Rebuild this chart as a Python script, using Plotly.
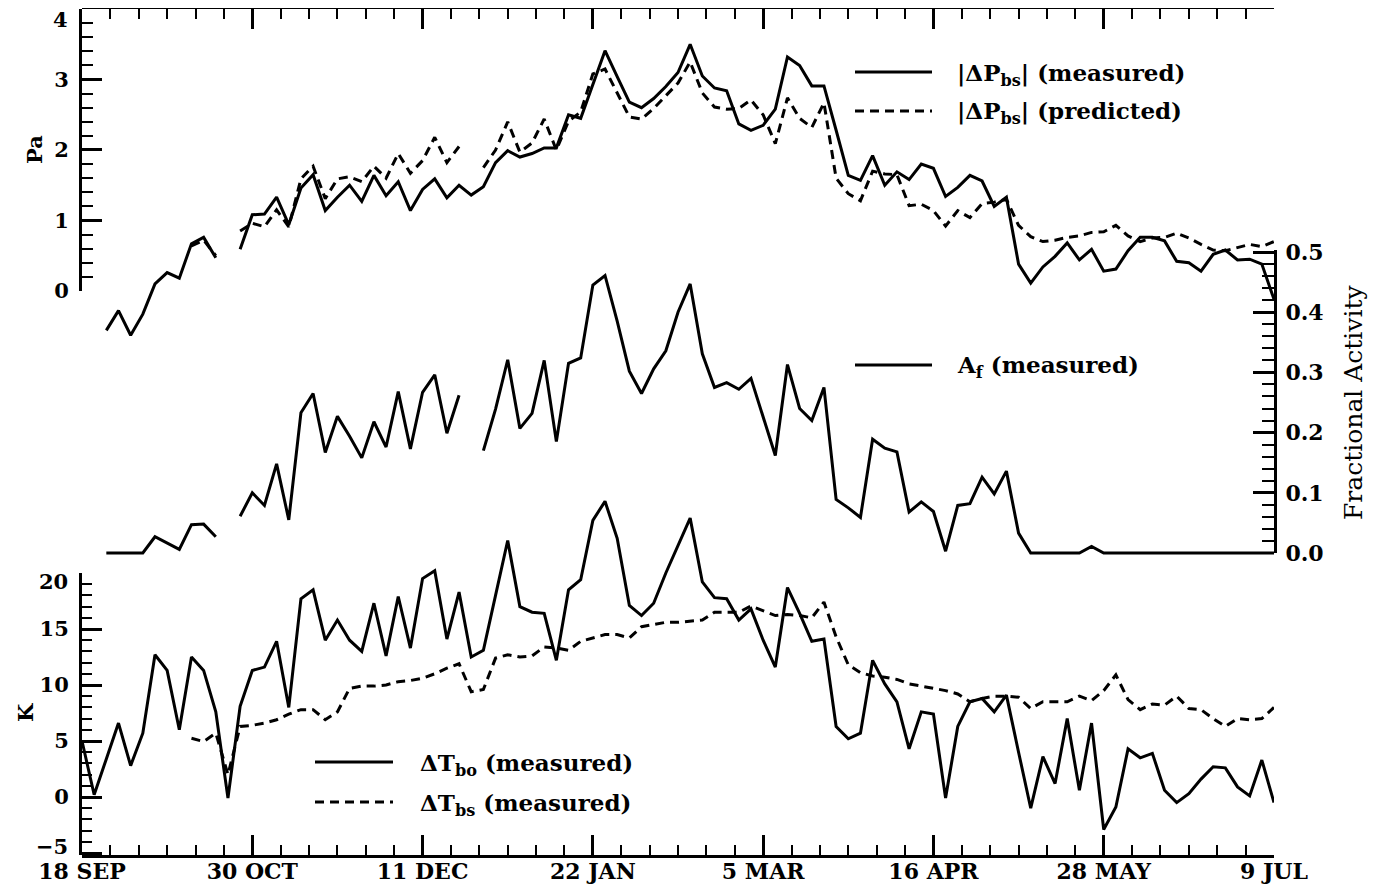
import plotly.graph_objects as go

# ---------------- data ----------------
STEP_DAYS = 3  # samples every 3 days starting 18 SEP
tick_days = [0, 42, 84, 126, 168, 210, 252, 294]
tick_labels = ["18 SEP", "30 OCT", "11 DEC", "22 JAN", "5 MAR", "16 APR", "28 MAY", "9 JUL"]
N = None

# |dP_bs| measured (Pa)
dP_meas = [N, N, -0.56, -0.28, -0.63, -0.33, 0.10, 0.26, 0.18, 0.67,
           0.76, 0.47, N, 0.59, 1.08, 1.09, 1.33, 0.94, 1.46, 1.65,
           1.14, 1.33, 1.50, 1.27, 1.64, 1.35, 1.55, 1.14, 1.44, 1.59,
           1.32, 1.50, 1.36, 1.48, 1.82, 1.99, 1.90, 1.95, 2.03, 2.03,
           2.50, 2.45, 2.92, 3.41, 3.04, 2.68, 2.60, 2.73, 2.90, 3.10,
           3.50, 3.05, 2.88, 2.84, 2.37, 2.28, 2.35, 2.58, 3.32, 3.20,
           2.91, 2.91, 2.28, 1.64, 1.57, 1.92, 1.50, 1.69, 1.58, 1.80,
           1.74, 1.34, 1.47, 1.64, 1.56, 1.20, 1.33, 0.38, 0.11, 0.34,
           0.49, 0.68, 0.44, 0.59, 0.28, 0.31, 0.57, 0.76, 0.76, 0.71,
           0.42, 0.40, 0.28, 0.52, 0.58, 0.44, 0.45, 0.38, -0.12]

# |dP_bs| predicted (Pa)
dP_pred = [N, N, N, N, N, N, N, N, N, 0.64,
           0.72, 0.50, N, 0.85, 0.96, 0.91, 1.15, 0.91, 1.59, 1.77,
           1.31, 1.59, 1.62, 1.55, 1.77, 1.60, 1.95, 1.67, 1.85, 2.18,
           1.82, 2.05, N, 1.75, 2.00, 2.40, 1.97, 2.10, 2.44, 2.00,
           2.41, 2.54, 3.08, 3.15, 2.82, 2.47, 2.44, 2.59, 2.77, 2.95,
           3.25, 2.81, 2.61, 2.58, 2.59, 2.71, 2.50, 2.09, 2.74, 2.45,
           2.32, 2.67, 1.60, 1.38, 1.28, 1.70, 1.66, 1.65, 1.21, 1.23,
           1.14, 0.92, 1.14, 1.04, 1.24, 1.26, 1.30, 0.93, 0.77, 0.70,
           0.72, 0.76, 0.78, 0.83, 0.84, 0.93, 0.78, 0.70, 0.75, 0.76,
           0.82, 0.75, 0.66, 0.58, 0.57, 0.62, 0.66, 0.63, 0.70]

# A_f measured (fractional activity)
frac_act = [N, N, 0.0, 0.0, 0.0, 0.0, 0.027, 0.017, 0.006, 0.047,
            0.048, 0.027, N, 0.061, 0.100, 0.079, 0.148, 0.055, 0.233, 0.265,
            0.167, 0.227, 0.194, 0.158, 0.218, 0.176, 0.268, 0.173, 0.267, 0.296,
            0.199, 0.262, N, 0.170, 0.239, 0.321, 0.207, 0.232, 0.320, 0.185,
            0.315, 0.324, 0.445, 0.461, 0.385, 0.302, 0.265, 0.306, 0.336, 0.400,
            0.447, 0.331, 0.275, 0.283, 0.272, 0.290, 0.225, 0.162, 0.313, 0.240,
            0.220, 0.275, 0.089, 0.075, 0.059, 0.189, 0.174, 0.168, 0.068, 0.085,
            0.069, 0.003, 0.079, 0.082, 0.126, 0.098, 0.136, 0.033, 0.0, 0.0,
            0.0, 0.0, 0.0, 0.011, 0.0, 0.0, 0.0, 0.0, 0.0, 0.0,
            0.0, 0.0, 0.0, 0.0, 0.0, 0.0, 0.0, 0.0, 0.0]

# dT_bo measured (K)
dT_bo = [5.0, 0.2, 3.4, 6.6, 2.8, 5.7, 12.7, 11.3, 6.0, 12.5,
         11.3, 7.6, -0.1, 8.1, 11.3, 11.6, 13.9, 8.0, 17.7, 18.5,
         14.0, 15.8, 14.0, 13.0, 17.3, 12.6, 17.9, 13.3, 19.5, 20.2,
         14.1, 18.3, 12.5, 13.1, 18.0, 22.9, 17.0, 16.5, 16.4, 12.2,
         18.5, 19.4, 24.7, 26.4, 23.1, 17.1, 16.2, 17.3, 20.0, 22.4,
         24.9, 19.2, 17.8, 17.7, 15.8, 16.8, 14.0, 11.6, 18.7, 16.4,
         13.9, 14.1, 6.3, 5.2, 5.7, 12.2, 10.1, 8.5, 4.3, 7.6,
         7.4, -0.1, 6.3, 8.5, 8.8, 7.6, 9.1, 4.0, -1.0, 3.6,
         1.2, 7.0, 0.6, 6.6, -2.9, -0.9, 4.3, 3.5, 3.9, 0.6,
         -0.5, 0.3, 1.6, 2.7, 2.6, 0.9, 0.1, 3.3, -0.5]

# dT_bs measured (K)
dT_bs = [N, N, N, N, N, N, N, N, N, 5.25,
         4.95, 5.7, 2.0, 6.3, 6.4, 6.6, 6.9, 7.4, 7.8, 7.8,
         6.9, 7.6, 9.7, 9.9, 9.9, 10.0, 10.3, 10.4, 10.6, 11.0,
         11.5, 11.9, 9.4, 9.6, 12.4, 12.7, 12.5, 12.6, 13.4, 13.3,
         13.1, 13.9, 14.2, 14.5, 14.5, 14.2, 15.2, 15.4, 15.6, 15.6,
         15.7, 15.8, 16.5, 16.5, 16.5, 17.05, 16.6, 16.2, 16.3, 16.2,
         16.0, 17.4, 14.3, 11.8, 11.1, 10.8, 10.7, 10.5, 10.1, 9.9,
         9.7, 9.5, 9.2, 8.5, 8.8, 9.0, 9.0, 8.9, 7.9, 8.5,
         8.5, 8.5, 9.0, 8.6, 9.5, 10.9, 8.7, 7.8, 8.3, 8.2,
         9.0, 7.9, 7.8, 7.0, 6.3, 7.0, 6.9, 7.0, 8.0]

days = [i * STEP_DAYS for i in range(len(dT_bo))]

# ---------------- layout geometry (reference-pixel based) ----------------
PAGE_OFF = 8                      # default body margin of the html page
W, H = 1384 - PAGE_OFF, 890 - PAGE_OFF
X_LEFT, X_RIGHT, Y_TOP, Y_BOT = 82, 1274, 9, 855   # plot frame in page pixels
ML = X_LEFT - PAGE_OFF
MT = Y_TOP - PAGE_OFF
MR = W - (X_RIGHT - PAGE_OFF)
MB = H - (Y_BOT - PAGE_OFF)
PH = Y_BOT - Y_TOP
PW = X_RIGHT - X_LEFT


def fy(py):
    return (Y_BOT - py) / PH


def fx(px):
    return (px - X_LEFT) / PW


# pixel calibration of each value axis (page pixels)
PA0, PAU = 290.9, 70.45      # Pa: pixel of 0, pixels per unit
FA0, FAU = 553.0, 602.0      # fractional activity
K0, KU = 797.0, 11.2         # K

pa_full = [(PA0 - Y_BOT) / PAU, (PA0 - Y_TOP) / PAU]
fa_full = [(FA0 - Y_BOT) / FAU, (FA0 - Y_TOP) / FAU]
k_full = [(K0 - Y_BOT) / KU, (K0 - Y_TOP) / KU]

FONT = "DejaVu Serif"
BLACK = "black"
LW = 3
DASH = "9px,6px"


def tfont(size, bold=True):
    d = dict(family=FONT, size=size, color=BLACK)
    if bold:
        d["weight"] = "bold"
    return d


fig = go.Figure()

# data traces (on full-height hidden axes so nothing gets clipped)
fig.add_trace(go.Scatter(x=days, y=dP_meas, xaxis="x", yaxis="y2", mode="lines",
                         line=dict(color=BLACK, width=LW), showlegend=False))
fig.add_trace(go.Scatter(x=days, y=dP_pred, xaxis="x", yaxis="y2", mode="lines",
                         line=dict(color=BLACK, width=LW, dash=DASH), showlegend=False))
fig.add_trace(go.Scatter(x=days, y=frac_act, xaxis="x", yaxis="y6", mode="lines",
                         line=dict(color=BLACK, width=LW), showlegend=False))
fig.add_trace(go.Scatter(x=days, y=dT_bo, xaxis="x", yaxis="y4", mode="lines",
                         line=dict(color=BLACK, width=LW), showlegend=False))
fig.add_trace(go.Scatter(x=days, y=dT_bs, xaxis="x", yaxis="y4", mode="lines",
                         line=dict(color=BLACK, width=LW, dash=DASH), showlegend=False))

# dummy traces so the display axes get drawn
for ya in ["y", "y3", "y5"]:
    fig.add_trace(go.Scatter(x=[None], y=[None], xaxis="x", yaxis=ya, mode="lines",
                             showlegend=False, hoverinfo="skip"))

tick_common = dict(ticks="inside", tickcolor=BLACK, tickwidth=2.5, showline=True,
                   linewidth=3, linecolor=BLACK, showgrid=False, zeroline=False,
                   automargin=False)

pa_ticks = [0, 1, 2, 3, 4]
pa_ticktext = ["0", "1", "2", "3", ""]          # "4" placed as its own label below
k_ticks = [-5, 0, 5, 10, 15, 20]
k_ticktext = ["", "0", "5", "10", "15", ""]     # end labels placed below

fig.update_layout(
    width=W, height=H,
    margin=dict(l=ML, r=MR, t=MT, b=MB, autoexpand=False),
    paper_bgcolor="white", plot_bgcolor="rgba(0,0,0,0)",
    showlegend=False,
    xaxis=dict(domain=[0, 1], range=[0, 294], anchor="y2", tickmode="array",
               tickvals=tick_days, ticktext=tick_labels, ticklen=20, mirror="ticks",
               ticklabelstandoff=-5,
               minor=dict(tickmode="linear", tick0=0, dtick=7, ticks="inside",
                          ticklen=10, tickwidth=2, tickcolor=BLACK, showgrid=False),
               tickfont=tfont(22), **tick_common),
    yaxis2=dict(domain=[0, 1], range=pa_full, visible=False, anchor="x", automargin=False),
    yaxis4=dict(domain=[0, 1], range=k_full, visible=False, anchor="x", automargin=False),
    yaxis6=dict(domain=[0, 1], range=fa_full, visible=False, anchor="x", automargin=False),
    yaxis=dict(domain=[fy(PA0), 1.0], range=[0, 4], anchor="x", side="left",
               tickmode="array", tickvals=pa_ticks, ticktext=pa_ticktext,
               ticklen=20, ticklabelstandoff=6,
               minor=dict(tickmode="linear", tick0=0, dtick=0.2, ticks="inside",
                          ticklen=11, tickwidth=2, tickcolor=BLACK, showgrid=False),
               tickfont=tfont(21), **tick_common),
    yaxis3=dict(domain=[0, fy(K0 - 20 * KU)], range=[k_full[0], 20], anchor="x", side="left",
                tickmode="array", tickvals=k_ticks, ticktext=k_ticktext,
                ticklen=20, ticklabelstandoff=6,
                minor=dict(tickmode="linear", tick0=0, dtick=1, ticks="inside",
                           ticklen=10, tickwidth=2, tickcolor=BLACK, showgrid=False),
                tickfont=tfont(21), **tick_common),
    yaxis5=dict(domain=[fy(FA0), fy(250)], range=[0, (FA0 - 250) / FAU], anchor="x",
                side="right", tickmode="linear", tick0=0, dtick=0.1, tickformat=".1f",
                ticklen=21, ticklabelstandoff=4,
                minor=dict(tickmode="linear", tick0=0, dtick=0.02, ticks="inside",
                           ticklen=12, tickwidth=2, tickcolor=BLACK, showgrid=False),
                tickfont=tfont(22), **tick_common),
)

# end labels of the left axes, nudged inside as in the reference
for lab, py in [("4", 19), ("20", 581), ("\u22125", 846)]:
    fig.add_annotation(xref="paper", yref="paper", x=fx(70), y=fy(py), text=lab,
                       xanchor="right", yanchor="middle", showarrow=False, font=tfont(21))

# ---------------- legends (line samples + labels) ----------------
legend_items = [
    (855, 932, 72, "solid", 955, "|ΔP<sub>bs</sub>| (measured)"),
    (855, 932, 111, DASH, 955, "|ΔP<sub>bs</sub>| (predicted)"),
    (855, 932, 365, "solid", 955, "A<sub>f</sub> (measured)"),
    (315, 393, 762, "solid", 418, "ΔT<sub>bo</sub> (measured)"),
    (315, 393, 802, DASH, 418, "ΔT<sub>bs</sub> (measured)"),
]
for x0, x1, yy, dash, tx, label in legend_items:
    fig.add_shape(type="line", xref="paper", yref="paper",
                  x0=fx(x0), x1=fx(x1), y0=fy(yy), y1=fy(yy),
                  line=dict(color=BLACK, width=LW, dash=dash))
    fig.add_annotation(xref="paper", yref="paper", x=fx(tx), y=fy(yy + 2),
                       xanchor="left", yanchor="middle", showarrow=False, text=label,
                       font=tfont(23))

# axis titles
fig.add_annotation(xref="paper", yref="paper", x=fx(35), y=fy(150), text="Pa",
                   textangle=-90, showarrow=False, xanchor="center", yanchor="middle",
                   font=tfont(21))
fig.add_annotation(xref="paper", yref="paper", x=fx(25), y=fy(713), text="K",
                   textangle=-90, showarrow=False, xanchor="center", yanchor="middle",
                   font=tfont(21))
fig.add_annotation(xref="paper", yref="paper", x=fx(1354), y=fy(402),
                   text="Fractional Activity", textangle=-90, showarrow=False,
                   xanchor="center", yanchor="middle", font=tfont(25, bold=False))

fig.write_html("out.html")
